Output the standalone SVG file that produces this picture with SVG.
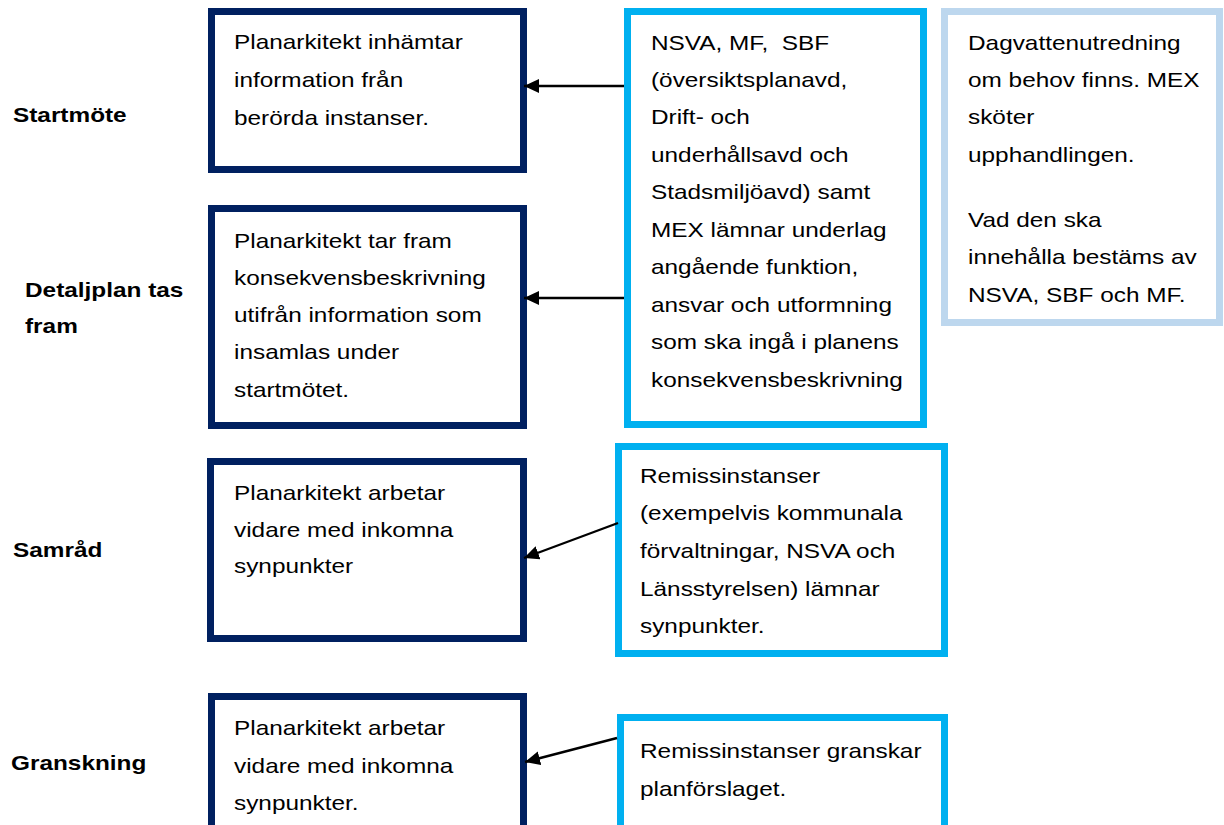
<svg xmlns="http://www.w3.org/2000/svg" width="1224" height="825" viewBox="0 0 1224 825">
<style>
.t{font-family:"Liberation Sans",Arial,sans-serif;font-size:21px;fill:#000}
.b{font-family:"Liberation Sans",Arial,sans-serif;font-size:21px;font-weight:bold;fill:#000}
.dk{fill:#fff;stroke:#002060;stroke-width:7}
.cy{fill:#fff;stroke:#00B0F0;stroke-width:7}
.lb{fill:#fff;stroke:#BDD7EE;stroke-width:7}
.c{fill:none;stroke:#000;stroke-width:2.4}
</style>
<defs>
<marker id="ah" markerUnits="userSpaceOnUse" markerWidth="16" markerHeight="14" refX="15" refY="7" orient="auto">
<path d="M0,0 L15,7 L0,14 z" fill="#000"/>
</marker>
</defs>
<rect width="1224" height="825" fill="#fff"/>

<g id="labels">
<text class="b" transform="translate(13,0) scale(1.16,1)"><tspan x="0" y="122">Startmöte</tspan></text>
<text class="b" transform="translate(25,0) scale(1.16,1)"><tspan x="0" y="297">Detaljplan tas</tspan><tspan x="0" y="333">fram</tspan></text>
<text class="b" transform="translate(13,0) scale(1.16,1)"><tspan x="0" y="557">Samråd</tspan></text>
<text class="b" transform="translate(11,0) scale(1.16,1)"><tspan x="0" y="770">Granskning</tspan></text>
</g>

<g id="n-start">
<rect class="dk" x="211.5" y="11.5" width="312" height="158"/>
<text class="t" transform="translate(234,0) scale(1.16,1)"><tspan x="0" y="49">Planarkitekt inhämtar</tspan><tspan x="0" y="87">information från</tspan><tspan x="0" y="125">berörda instanser.</tspan></text>
</g>

<g id="n-detalj">
<rect class="dk" x="211.5" y="208.5" width="312" height="217"/>
<text class="t" transform="translate(234,0) scale(1.16,1)"><tspan x="0" y="248">Planarkitekt tar fram</tspan><tspan x="0" y="285">konsekvensbeskrivning</tspan><tspan x="0" y="322">utifrån information som</tspan><tspan x="0" y="359">insamlas under</tspan><tspan x="0" y="397">startmötet.</tspan></text>
</g>

<g id="n-samrad">
<rect class="dk" x="210.5" y="461.5" width="313" height="177"/>
<text class="t" transform="translate(234,0) scale(1.16,1)"><tspan x="0" y="500">Planarkitekt arbetar</tspan><tspan x="0" y="537">vidare med inkomna</tspan><tspan x="0" y="573">synpunkter</tspan></text>
</g>

<g id="n-gransk">
<rect class="dk" x="211.5" y="696.5" width="312" height="140"/>
<text class="t" transform="translate(234,0) scale(1.16,1)"><tspan x="0" y="735">Planarkitekt arbetar</tspan><tspan x="0" y="773">vidare med inkomna</tspan><tspan x="0" y="810">synpunkter.</tspan></text>
</g>

<g id="n-nsva">
<rect class="cy" x="627.5" y="11.5" width="296" height="413"/>
<text class="t" transform="translate(651,0) scale(1.16,1)"><tspan x="0" y="50">NSVA, MF,&#160; SBF</tspan><tspan x="0" y="87">(översiktsplanavd,</tspan><tspan x="0" y="124">Drift- och</tspan><tspan x="0" y="162">underhållsavd och</tspan><tspan x="0" y="199">Stadsmiljöavd) samt</tspan><tspan x="0" y="237">MEX lämnar underlag</tspan><tspan x="0" y="274">angående funktion,</tspan><tspan x="0" y="312">ansvar och utformning</tspan><tspan x="0" y="349">som ska ingå i planens</tspan><tspan x="0" y="387">konsekvensbeskrivning</tspan></text>
</g>

<g id="n-dagvatten">
<rect class="lb" x="944.5" y="11.5" width="275" height="311"/>
<text class="t" transform="translate(968,0) scale(1.16,1)"><tspan x="0" y="50">Dagvattenutredning</tspan><tspan x="0" y="87">om behov finns. MEX</tspan><tspan x="0" y="124">sköter</tspan><tspan x="0" y="162">upphandlingen.</tspan><tspan x="0" y="227">Vad den ska</tspan><tspan x="0" y="264">innehålla bestäms av</tspan><tspan x="0" y="302">NSVA, SBF och MF.</tspan></text>
</g>

<g id="n-remiss1">
<rect class="cy" x="618.5" y="446.5" width="326" height="207"/>
<text class="t" transform="translate(640,0) scale(1.16,1)"><tspan x="0" y="483">Remissinstanser</tspan><tspan x="0" y="520">(exempelvis kommunala</tspan><tspan x="0" y="558">förvaltningar, NSVA och</tspan><tspan x="0" y="596">Länsstyrelsen) lämnar</tspan><tspan x="0" y="633">synpunkter.</tspan></text>
</g>

<g id="n-remiss2">
<rect class="cy" x="620.5" y="717.5" width="324" height="120"/>
<text class="t" transform="translate(640,0) scale(1.16,1)"><tspan x="0" y="758">Remissinstanser granskar</tspan><tspan x="0" y="796">planförslaget.</tspan></text>
</g>

<g id="connectors">
<path class="c" d="M624,86 L524,86" marker-end="url(#ah)"/>
<path class="c" d="M624,298 L524,298" marker-end="url(#ah)"/>
<path class="c" d="M618,523 L524,558" marker-end="url(#ah)"/>
<path class="c" d="M617,738 L525,762" marker-end="url(#ah)"/>
</g>
</svg>
